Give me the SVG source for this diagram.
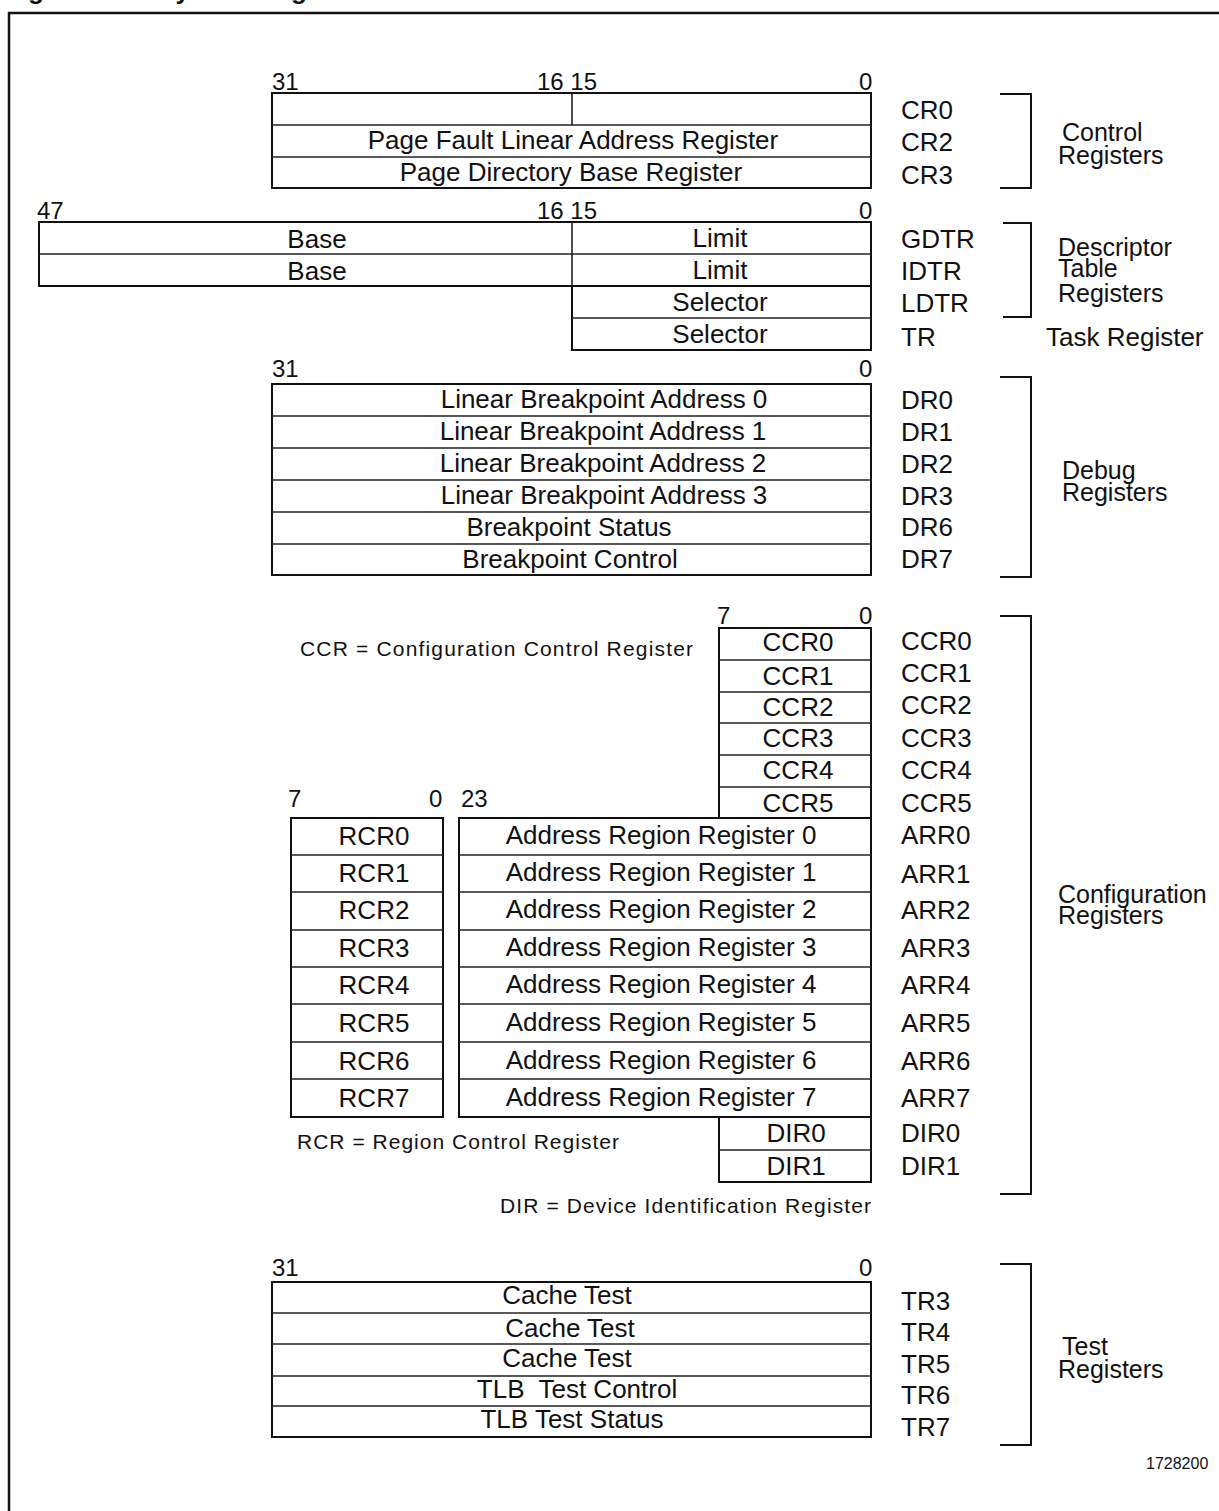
<svg xmlns="http://www.w3.org/2000/svg" width="1219" height="1511" viewBox="0 0 1219 1511">
<style>
text{font-family:"Liberation Sans",Arial,sans-serif;fill:#111}
.t{font-size:26px}
.c{text-anchor:middle}
.b{font-size:24px}
.n{font-size:21px}
.s{font-size:16px}
.g{font-size:25px}
.box{fill:none;stroke:#111;stroke-width:2}
.sep{stroke:#222;stroke-width:1.6}
.br{fill:none;stroke:#111;stroke-width:2}
</style>
<rect x="0" y="0" width="1219" height="1511" fill="#fff"/>
<text x="5" y="-1" style="font-size:26px;font-weight:bold">Figure 2-10. System Register Set</text>
<path d="M9 1511 V13 H1219" fill="none" stroke="#111" stroke-width="2.5"/>

<g id="control-registers">
<text class="b" x="272" y="90">31</text>
<text class="b" x="537" y="90">16 15</text>
<text class="b" x="859" y="90">0</text>
<rect class="box" x="272" y="93" width="599" height="95"/>
<line class="sep" x1="572" y1="93" x2="572" y2="125"/>
<line class="sep" x1="272" y1="125" x2="871" y2="125"/>
<line class="sep" x1="272" y1="157" x2="871" y2="157"/>
<text class="t c" x="573" y="149">Page Fault Linear Address Register</text>
<text class="t c" x="571" y="181">Page Directory Base Register</text>
<text class="t" x="901" y="119">CR0</text>
<text class="t" x="901" y="151">CR2</text>
<text class="t" x="901" y="184">CR3</text>
<text class="g" x="1062" y="141">Control</text>
<text class="g" x="1058" y="164">Registers</text>
</g>

<g id="descriptor-table-registers">
<text class="b" x="37" y="219">47</text>
<text class="b" x="537" y="219">16 15</text>
<text class="b" x="859" y="219">0</text>
<rect class="box" x="39" y="222" width="832" height="64"/>
<line class="sep" x1="39" y1="254" x2="871" y2="254"/>
<line class="sep" x1="572" y1="222" x2="572" y2="350"/>
<path class="box" d="M572 286 V350 H871 V286"/>
<line class="sep" x1="572" y1="318" x2="871" y2="318"/>
<text class="t c" x="317" y="248">Base</text>
<text class="t c" x="317" y="280">Base</text>
<text class="t c" x="720" y="247">Limit</text>
<text class="t c" x="720" y="279">Limit</text>
<text class="t c" x="720" y="311">Selector</text>
<text class="t c" x="720" y="343">Selector</text>
<text class="t" x="901" y="248">GDTR</text>
<text class="t" x="901" y="280">IDTR</text>
<text class="t" x="901" y="312">LDTR</text>
<text class="t" x="901" y="346">TR</text>
<text class="g" x="1058" y="256">Descriptor</text>
<text class="g" x="1058" y="277">Table</text>
<text class="g" x="1058" y="302">Registers</text>
<text class="t" x="1046" y="346">Task Register</text>
</g>

<g id="debug-registers">
<text class="b" x="272" y="377">31</text>
<text class="b" x="859" y="377">0</text>
<rect class="box" x="272" y="384" width="599" height="191"/>
<line class="sep" x1="272" y1="416" x2="871" y2="416"/>
<line class="sep" x1="272" y1="448" x2="871" y2="448"/>
<line class="sep" x1="272" y1="480" x2="871" y2="480"/>
<line class="sep" x1="272" y1="512" x2="871" y2="512"/>
<line class="sep" x1="272" y1="544" x2="871" y2="544"/>
<text class="t c" x="604" y="408">Linear Breakpoint Address 0</text>
<text class="t c" x="603" y="440">Linear Breakpoint Address 1</text>
<text class="t c" x="603" y="472">Linear Breakpoint Address 2</text>
<text class="t c" x="604" y="504">Linear Breakpoint Address 3</text>
<text class="t c" x="569" y="536">Breakpoint Status</text>
<text class="t c" x="570" y="568">Breakpoint Control</text>
<text class="t" x="901" y="409">DR0</text>
<text class="t" x="901" y="441">DR1</text>
<text class="t" x="901" y="473">DR2</text>
<text class="t" x="901" y="505">DR3</text>
<text class="t" x="901" y="536">DR6</text>
<text class="t" x="901" y="568">DR7</text>
<text class="g" x="1062" y="479">Debug</text>
<text class="g" x="1062" y="501">Registers</text>
</g>

<g id="configuration-registers">
<text class="b" x="717" y="624">7</text>
<text class="b" x="859" y="624">0</text>
<rect class="box" x="719" y="628" width="152" height="190"/>
<line class="sep" x1="719" y1="660" x2="871" y2="660"/>
<line class="sep" x1="719" y1="692" x2="871" y2="692"/>
<line class="sep" x1="719" y1="723" x2="871" y2="723"/>
<line class="sep" x1="719" y1="755" x2="871" y2="755"/>
<line class="sep" x1="719" y1="787" x2="871" y2="787"/>
<text class="t c" x="798" y="651">CCR0</text>
<text class="t c" x="798" y="685">CCR1</text>
<text class="t c" x="798" y="716">CCR2</text>
<text class="t c" x="798" y="747">CCR3</text>
<text class="t c" x="798" y="779">CCR4</text>
<text class="t c" x="798" y="812">CCR5</text>
<text class="n" x="300" y="656" textLength="393" lengthAdjust="spacing">CCR = Configuration Control Register</text>

<text class="b" x="288" y="807">7</text>
<text class="b" x="429" y="807">0</text>
<text class="b" x="461" y="807">23</text>
<rect class="box" x="291" y="818" width="152" height="299"/>
<rect class="box" x="459" y="818" width="412" height="299"/>
<g class="sep">
<line x1="291" y1="855" x2="443" y2="855"/><line x1="459" y1="855" x2="871" y2="855"/>
<line x1="291" y1="892" x2="443" y2="892"/><line x1="459" y1="892" x2="871" y2="892"/>
<line x1="291" y1="930" x2="443" y2="930"/><line x1="459" y1="930" x2="871" y2="930"/>
<line x1="291" y1="967" x2="443" y2="967"/><line x1="459" y1="967" x2="871" y2="967"/>
<line x1="291" y1="1004" x2="443" y2="1004"/><line x1="459" y1="1004" x2="871" y2="1004"/>
<line x1="291" y1="1042" x2="443" y2="1042"/><line x1="459" y1="1042" x2="871" y2="1042"/>
<line x1="291" y1="1079" x2="443" y2="1079"/><line x1="459" y1="1079" x2="871" y2="1079"/>
</g>
<text class="t c" x="374" y="845">RCR0</text>
<text class="t c" x="374" y="882">RCR1</text>
<text class="t c" x="374" y="919">RCR2</text>
<text class="t c" x="374" y="957">RCR3</text>
<text class="t c" x="374" y="994">RCR4</text>
<text class="t c" x="374" y="1032">RCR5</text>
<text class="t c" x="374" y="1070">RCR6</text>
<text class="t c" x="374" y="1107">RCR7</text>
<text class="t c" x="661" y="844">Address Region Register 0</text>
<text class="t c" x="661" y="881">Address Region Register 1</text>
<text class="t c" x="661" y="918">Address Region Register 2</text>
<text class="t c" x="661" y="956">Address Region Register 3</text>
<text class="t c" x="661" y="993">Address Region Register 4</text>
<text class="t c" x="661" y="1031">Address Region Register 5</text>
<text class="t c" x="661" y="1069">Address Region Register 6</text>
<text class="t c" x="661" y="1106">Address Region Register 7</text>

<path class="box" d="M719 1117 V1182 H871 V1117"/>
<line class="sep" x1="719" y1="1150" x2="871" y2="1150"/>
<text class="t c" x="796" y="1142">DIR0</text>
<text class="t c" x="796" y="1175">DIR1</text>
<text class="n" x="297" y="1149" textLength="322" lengthAdjust="spacing">RCR = Region Control Register</text>
<text class="n" x="500" y="1213" textLength="371" lengthAdjust="spacing">DIR = Device Identification Register</text>

<text class="t" x="901" y="650">CCR0</text>
<text class="t" x="901" y="682">CCR1</text>
<text class="t" x="901" y="714">CCR2</text>
<text class="t" x="901" y="747">CCR3</text>
<text class="t" x="901" y="779">CCR4</text>
<text class="t" x="901" y="812">CCR5</text>
<text class="t" x="901" y="844">ARR0</text>
<text class="t" x="901" y="883">ARR1</text>
<text class="t" x="901" y="919">ARR2</text>
<text class="t" x="901" y="957">ARR3</text>
<text class="t" x="901" y="994">ARR4</text>
<text class="t" x="901" y="1032">ARR5</text>
<text class="t" x="901" y="1070">ARR6</text>
<text class="t" x="901" y="1107">ARR7</text>
<text class="t" x="901" y="1142">DIR0</text>
<text class="t" x="901" y="1175">DIR1</text>
<text class="g" x="1058" y="903">Configuration</text>
<text class="g" x="1058" y="924">Registers</text>
</g>

<g id="test-registers">
<text class="b" x="272" y="1276">31</text>
<text class="b" x="859" y="1276">0</text>
<rect class="box" x="272" y="1282" width="599" height="155"/>
<line class="sep" x1="272" y1="1313" x2="871" y2="1313"/>
<line class="sep" x1="272" y1="1344" x2="871" y2="1344"/>
<line class="sep" x1="272" y1="1376" x2="871" y2="1376"/>
<line class="sep" x1="272" y1="1406" x2="871" y2="1406" stroke-width="1"/>
<text class="t c" x="567" y="1304">Cache Test</text>
<text class="t c" x="570" y="1337">Cache Test</text>
<text class="t c" x="567" y="1367">Cache Test</text>
<text class="t c" x="577" y="1398" xml:space="preserve">TLB  Test Control</text>
<text class="t c" x="572" y="1428">TLB Test Status</text>
<text class="t" x="901" y="1310">TR3</text>
<text class="t" x="901" y="1341">TR4</text>
<text class="t" x="901" y="1373">TR5</text>
<text class="t" x="901" y="1404">TR6</text>
<text class="t" x="901" y="1436">TR7</text>
<text class="g" x="1062" y="1355">Test</text>
<text class="g" x="1058" y="1378">Registers</text>
<text class="s" x="1146" y="1469">1728200</text>
</g>

<g id="brackets">
<path class="br" d="M1000 94 H1031 V188 H1000"/>
<path class="br" d="M1003 223 H1031 V317 H1003"/>
<path class="br" d="M1000 377 H1031 V577 H1000"/>
<path class="br" d="M1000 616 H1031 V1194 H1000"/>
<path class="br" d="M1000 1264 H1031 V1445 H1000"/>
</g>
</svg>
